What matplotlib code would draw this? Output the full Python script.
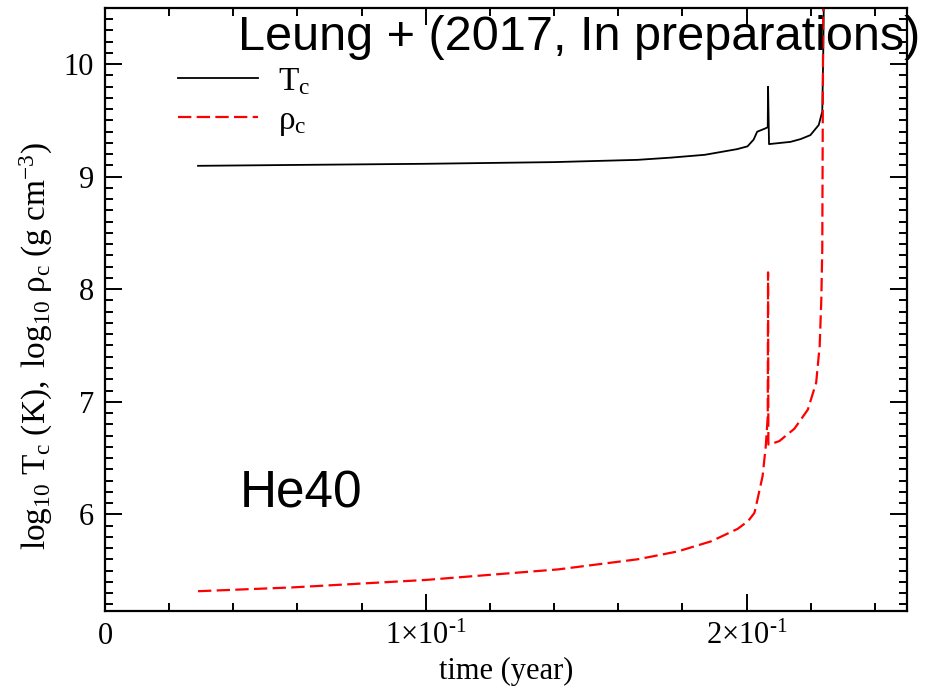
import matplotlib
matplotlib.use("Agg")
import matplotlib.pyplot as plt
from matplotlib.ticker import MultipleLocator, FixedLocator, FixedFormatter

plt.rcParams['font.family'] = ['Liberation Serif', 'DejaVu Serif']
plt.rcParams['mathtext.fontset'] = 'custom'
plt.rcParams['mathtext.rm'] = 'Liberation Serif'
plt.rcParams['mathtext.it'] = 'Liberation Serif:italic'

# central temperature (log10 K) vs time in years
t_T = [0.029, 0.06, 0.10, 0.14, 0.166, 0.1765, 0.187, 0.193, 0.197, 0.2003,
       0.2022, 0.2033, 0.2059, 0.2066, 0.2067, 0.2070, 0.2137, 0.2169, 0.2199,
       0.2225, 0.2236, 0.2239, 0.2241]
log_T = [9.097, 9.105, 9.115, 9.13, 9.15, 9.17, 9.195, 9.225, 9.245, 9.27,
         9.33, 9.40, 9.43, 9.44, 9.80, 9.29, 9.31, 9.335, 9.37,
         9.46, 9.58, 10.1, 10.6]

# central density (log10 g/cm^3) vs time in years
t_rho = [0.029, 0.0585, 0.0999, 0.1413, 0.1661, 0.1786, 0.189, 0.1972, 0.2005,
         0.2024, 0.2027, 0.205, 0.206, 0.2066, 0.2067, 0.2068, 0.2071, 0.2102,
         0.2149, 0.2191, 0.2217, 0.2228, 0.2233, 0.2236, 0.2239]
log_rho = [5.316, 5.35, 5.416, 5.51, 5.60, 5.67, 5.76, 5.87, 5.94,
           6.01, 6.04, 6.34, 6.61, 6.87, 8.15, 6.62, 6.62, 6.65,
           6.76, 6.93, 7.17, 7.50, 7.91, 8.36, 10.6]

x_major = [0.0, 0.1, 0.2]
x_major_labels = ['0', r'$1{\times}10^{\text{-1}}$', r'$2{\times}10^{\text{-1}}$']

fig = plt.figure(figsize=(9.25, 6.93), dpi=100)
ax = fig.add_axes([0.1135, 0.1183, 0.867, 0.8702])

ax.plot(t_T, log_T, color='black', lw=1.3, label='T$_\\mathrm{c}$')
ax.plot(t_rho, log_rho, color='red', lw=1.6, dashes=(6, 2.4), label='ρ$_\\mathrm{c}$')

ax.set_xlim(0, 0.25)
ax.set_ylim(5.14, 10.5)

ax.xaxis.set_major_locator(FixedLocator(x_major))
ax.xaxis.set_major_formatter(FixedFormatter(x_major_labels))
ax.xaxis.set_minor_locator(MultipleLocator(0.02))
ax.yaxis.set_major_locator(MultipleLocator(1))
ax.yaxis.set_minor_locator(MultipleLocator(0.1))
ax.tick_params(which='both', direction='in', top=True, right=True,
               labelsize=22, width=1.4)
ax.tick_params(which='major', length=12, pad=8)
ax.tick_params(which='minor', length=6)
for sp in ax.spines.values():
    sp.set_linewidth(1.6)

ax.set_xlabel('time (year)', fontsize=22, labelpad=4)
ax.set_ylabel(r'$\mathrm{log_{10}\ T_c\ (K),\ log_{10}\ \rho_c\ (g\ cm^{-3})}$',
              fontsize=24)
ax.yaxis.set_label_coords(-0.062, 0.44)

ax.legend(loc='upper left', bbox_to_anchor=(0.054, 0.953), frameon=False,
          fontsize=24, handlelength=2.4, handletextpad=0.6, labelspacing=0.25)

ax.text(238, 693 - 50, 'Leung + (2017, In preparations)', transform=None,
        fontsize=35, family='Liberation Sans', ha='left', va='baseline')
ax.text(240, 693 - 507, 'He40', transform=None,
        fontsize=37, family='Liberation Sans', ha='left', va='baseline')

fig.savefig('out.png', dpi=100)
